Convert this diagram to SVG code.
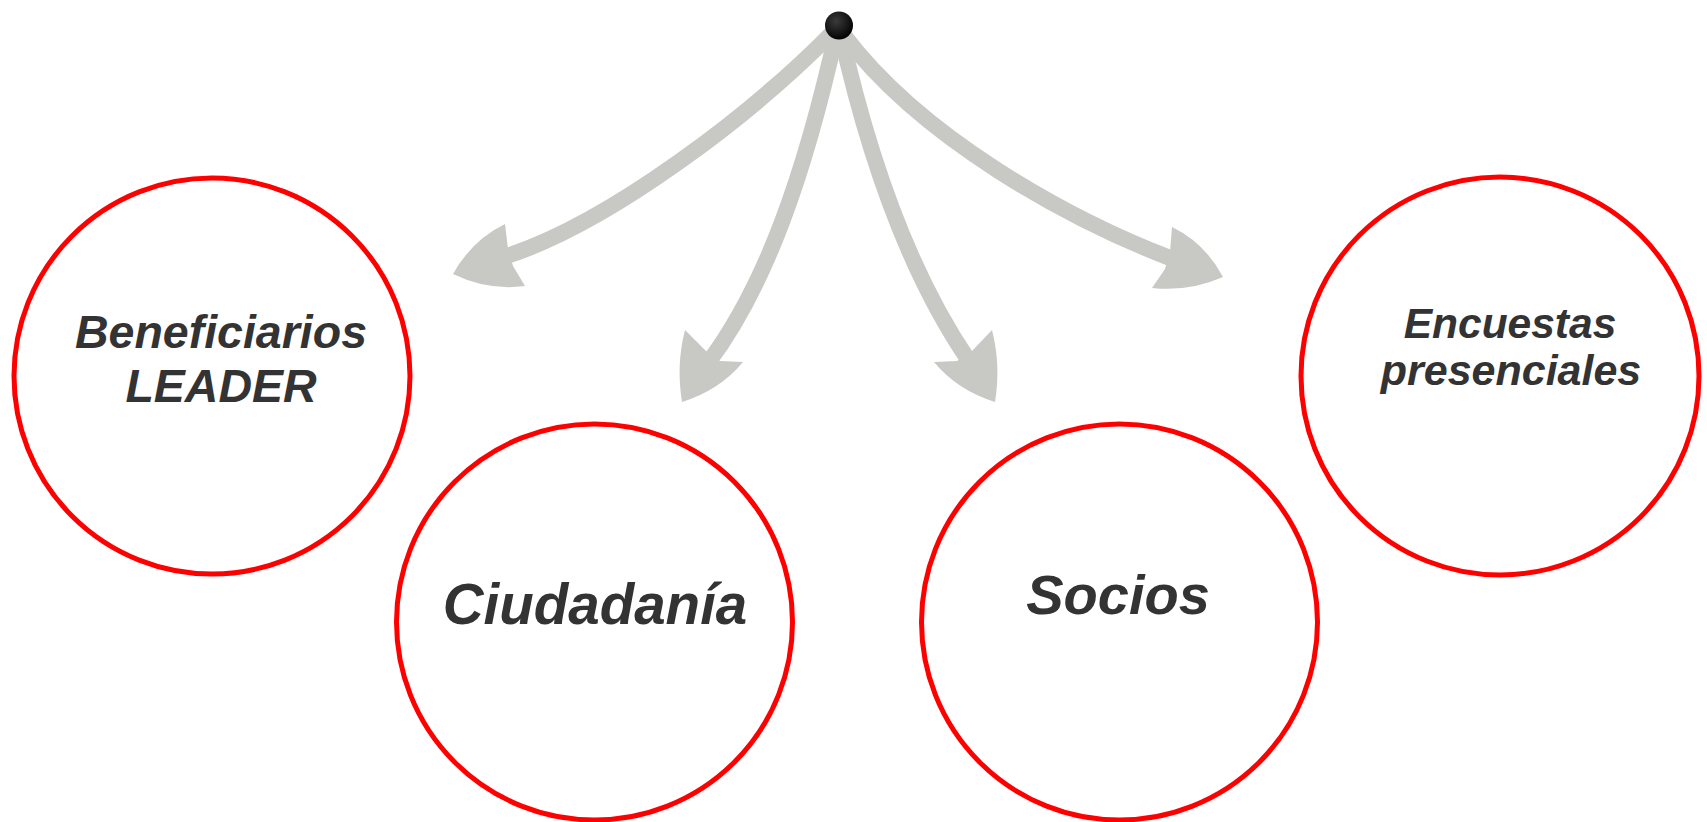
<svg xmlns="http://www.w3.org/2000/svg" width="1707" height="822" viewBox="0 0 1707 822">
<style>
.node circle{fill:#ffffff;stroke:#ff0000;stroke-width:5}
.lbl{font-family:"Liberation Sans",Arial,sans-serif;font-weight:bold;font-style:italic;fill:#333333;text-anchor:middle}
.shaft{fill:none;stroke:#c8c8c4;stroke-width:16;stroke-linejoin:round;stroke-linecap:butt}
.head{fill:#c8c8c4;stroke:none}
</style>
<defs>
<radialGradient id="dotg" cx="0.4" cy="0.35" r="0.7">
<stop offset="0" stop-color="#3a3a3a"/>
<stop offset="1" stop-color="#000000"/>
</radialGradient>
</defs>
<rect width="1707" height="822" fill="#ffffff"/>
<g id="connectors">
<g id="arrow-beneficiarios">
<path class="shaft" d="M 832 33 C 752 114, 611.5 221.9, 507 256 L 492 261"/>
<path class="head" d="M 505 224 L 508 249 L 513 266 L 525 286 Q 488 291 453 274 Q 472 240 505 224 Z"/>
</g>
<g id="arrow-ciudadania">
<path class="shaft" d="M 837 30 C 804.5 176.4, 765 287, 708 363 L 700 374"/>
<path class="head" d="M 685 330 L 706 351 L 720 361 L 743 362 Q 720 390 682 402 Q 676 365 685 330 Z"/>
</g>
<g id="arrow-socios">
<path class="shaft" d="M 840 30 C 872.5 176.4, 917 285, 969 361 L 977 372"/>
<path class="head" d="M 992 330 L 972 351 L 957 361 L 934 362 Q 957 390 995 402 Q 1001 365 992 330 Z"/>
</g>
<g id="arrow-encuestas">
<path class="shaft" d="M 843 34 C 921 138, 1067.7 218.4, 1170 258 L 1185 264"/>
<path class="head" d="M 1172 227 L 1170 252 L 1165 269 L 1152 288 Q 1189 292 1223 277 Q 1205 243 1172 227 Z"/>
</g>
</g>
<g id="source">
<circle cx="839" cy="25.5" r="14" fill="url(#dotg)"/>
</g>
<g id="beneficiarios" class="node">
<circle cx="212" cy="376" r="198"/>
<text class="lbl" x="221" y="348" font-size="46.5">Beneficiarios</text>
<text class="lbl" x="221" y="402" font-size="46.5">LEADER</text>
</g>
<g id="ciudadania" class="node">
<circle cx="594.5" cy="622" r="198"/>
<text class="lbl" x="595" y="624" font-size="56.5">Ciudadanía</text>
</g>
<g id="socios" class="node">
<circle cx="1119.5" cy="622" r="198"/>
<text class="lbl" x="1118" y="614" font-size="56">Socios</text>
</g>
<g id="encuestas" class="node">
<circle cx="1500" cy="376" r="199"/>
<text class="lbl" x="1510" y="338" font-size="42.5">Encuestas</text>
<text class="lbl" x="1511" y="385" font-size="43">presenciales</text>
</g>
</svg>
